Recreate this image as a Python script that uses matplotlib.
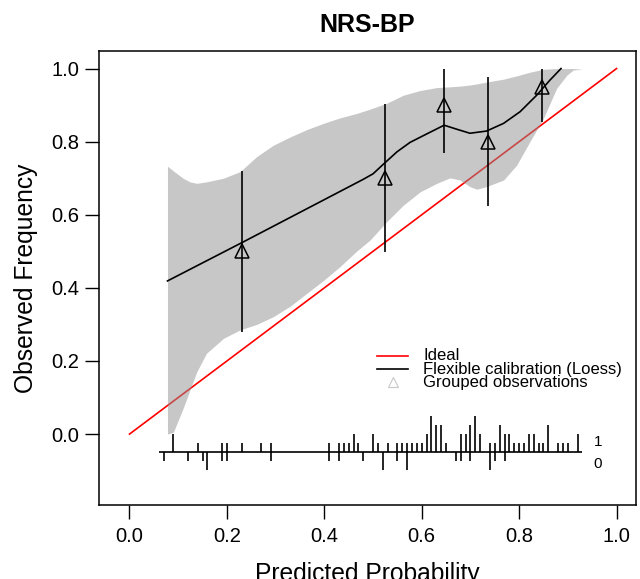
import numpy as np
import matplotlib
matplotlib.use("Agg")
import matplotlib.pyplot as plt

plt.rcParams['font.family'] = ['Liberation Sans', 'DejaVu Sans']

# grouped observations (triangles) with their intervals
grp_x = [0.232, 0.524, 0.646, 0.736, 0.846]
grp_y = [0.50, 0.70, 0.90, 0.80, 0.95]
grp_lo = [0.28, 0.499, 0.768, 0.625, 0.854]
grp_hi = [0.72, 0.902, 1.0, 0.976, 1.0]

# loess calibration curve
loess_x = [0.078, 0.234, 0.48, 0.50, 0.521, 0.549, 0.576, 0.610, 0.646,
           0.672, 0.699, 0.733, 0.768, 0.802, 0.836, 0.863, 0.886]
loess_y = [0.419, 0.526, 0.697, 0.712, 0.738, 0.772, 0.798, 0.821, 0.845,
           0.834, 0.823, 0.829, 0.850, 0.882, 0.927, 0.968, 1.0]

# confidence band of the loess curve
band_x = [0.078, 0.09, 0.11, 0.124, 0.138, 0.158, 0.193, 0.227, 0.261, 0.295,
          0.33, 0.364, 0.398, 0.432, 0.466, 0.494, 0.528, 0.562, 0.597, 0.631,
          0.658, 0.679, 0.699, 0.713, 0.733, 0.768, 0.795, 0.822, 0.850, 0.877,
          0.898, 0.911, 0.93]
band_hi = [0.733, 0.72, 0.70, 0.69, 0.686, 0.69, 0.70, 0.718, 0.759, 0.79,
           0.813, 0.833, 0.850, 0.865, 0.877, 0.889, 0.905, 0.927, 0.94, 0.948,
           0.950, 0.952, 0.955, 0.958, 0.963, 0.971, 0.98, 0.99, 0.998, 1.0,
           1.0, 1.0, 0.998]
band_lo = [0.0, 0.005, 0.07, 0.12, 0.17, 0.221, 0.262, 0.285, 0.30, 0.321,
           0.35, 0.385, 0.42, 0.458, 0.50, 0.531, 0.581, 0.626, 0.663, 0.686,
           0.701, 0.695, 0.677, 0.670, 0.677, 0.695, 0.736, 0.800, 0.864, 0.946,
           0.982, 0.996, 0.998]

# distribution of predicted probabilities (counts per bin) for y=1 and y=0
rug_x = [0.07, 0.09, 0.12, 0.14, 0.15, 0.16, 0.19, 0.20, 0.23, 0.27, 0.29,
         0.41, 0.43, 0.44, 0.45, 0.46, 0.47, 0.48, 0.50, 0.51, 0.52, 0.53,
         0.55, 0.56, 0.57, 0.58, 0.59, 0.60, 0.61, 0.62, 0.63, 0.64, 0.65,
         0.67, 0.68, 0.69, 0.70, 0.71, 0.72, 0.74, 0.75, 0.76, 0.77, 0.78,
         0.79, 0.80, 0.81, 0.82, 0.83, 0.84, 0.85, 0.86, 0.88, 0.89, 0.90, 0.92]
rug_n1 = [0, 2, 0, 1, 0, 0, 1, 1, 1, 1, 1,
          1, 1, 1, 1, 2, 1, 0, 2, 1, 0, 1,
          1, 1, 1, 1, 1, 1, 2, 4, 3, 3, 1,
          0, 2, 2, 3, 4, 2, 1, 1, 3, 2, 2,
          1, 1, 1, 2, 2, 1, 1, 3, 1, 1, 1, 2]
rug_n0 = [1, 0, 1, 0, 1, 2, 1, 1, 0, 0, 1,
          1, 1, 0, 0, 0, 0, 1, 0, 0, 2, 0,
          1, 0, 2, 0, 0, 0, 0, 0, 0, 0, 0,
          1, 1, 0, 1, 0, 0, 2, 1, 0, 1, 0,
          0, 0, 0, 0, 0, 0, 0, 0, 0, 0, 0, 0]

legend_labels = ["Ideal", "Flexible calibration (Loess)", "Grouped observations"]

rug_base = -0.05
rug_unit = 0.0246

fig = plt.figure(figsize=(6.4, 5.79), dpi=100)
ax = fig.add_axes([0.1547, 0.1278, 0.8391, 0.7841])

ax.plot([0, 1], [0, 1], color="red", lw=1.2, zorder=1)
ax.fill_between(band_x, band_lo, band_hi, color="#909090", alpha=0.5,
                lw=0, zorder=2)
ax.plot(loess_x, loess_y, color="black", lw=1.2, zorder=3)
ax.vlines(grp_x, grp_lo, grp_hi, color="black", lw=1.2, zorder=3)
ax.plot(grp_x, grp_y, ls="none", marker="^", ms=9.5, mfc="none", mec="black",
        mew=1.1, zorder=4)

# histogram rug
rx = np.array(rug_x)
n1 = np.array(rug_n1)
n0 = np.array(rug_n0)
ax.hlines(rug_base, 0.06, 0.93, color="black", lw=1.2)
m1 = n1 > 0
m0 = n0 > 0
ax.vlines(rx[m1], rug_base, rug_base + n1[m1] * rug_unit, color="black", lw=1.2)
ax.vlines(rx[m0], rug_base - n0[m0] * rug_unit, rug_base, color="black", lw=1.2)
ax.text(0.962, rug_base + 0.027, "1", fontsize=11, ha="center", va="center")
ax.text(0.962, rug_base - 0.032, "0", fontsize=11, ha="center", va="center")

# legend, drawn like R's legend()
leg_y = [0.214, 0.178, 0.1415]
ax.plot([0.508, 0.572], [leg_y[0]] * 2, color="red", lw=1.2)
ax.plot([0.508, 0.572], [leg_y[1]] * 2, color="black", lw=1.2)
ax.plot([0.54], [leg_y[2]], ls="none", marker="^", ms=7, mfc="none",
        mec="#c8c8c8", mew=0.8)
for yy, lab in zip(leg_y, legend_labels):
    ax.text(0.603, yy, lab, fontsize=12, ha="left", va="center")

ax.set_xlim(-0.0626, 1.040)
ax.set_ylim(-0.194, 1.048)
ax.set_xticks(np.arange(0, 1.01, 0.2))
ax.set_yticks(np.arange(0, 1.01, 0.2))
ax.set_xticklabels(["0.0", "0.2", "0.4", "0.6", "0.8", "1.0"])
ax.set_yticklabels(["0.0", "0.2", "0.4", "0.6", "0.8", "1.0"])
ax.tick_params(labelsize=14.5, length=10, width=1, direction="out")
ax.tick_params(axis="x", pad=6)
ax.tick_params(axis="y", pad=4)
for s in ax.spines.values():
    s.set_linewidth(1.1)

ax.set_xlabel("Predicted Probability", fontsize=17.7)
ax.set_ylabel("Observed Frequency", fontsize=17.7)
ax.xaxis.set_label_coords(0.5, -0.1256)
ax.yaxis.set_label_coords(-0.113, 0.5)
ax.set_title("NRS-BP", fontsize=18, fontweight="bold", pad=13.5)

fig.savefig("out.png", dpi=100)
